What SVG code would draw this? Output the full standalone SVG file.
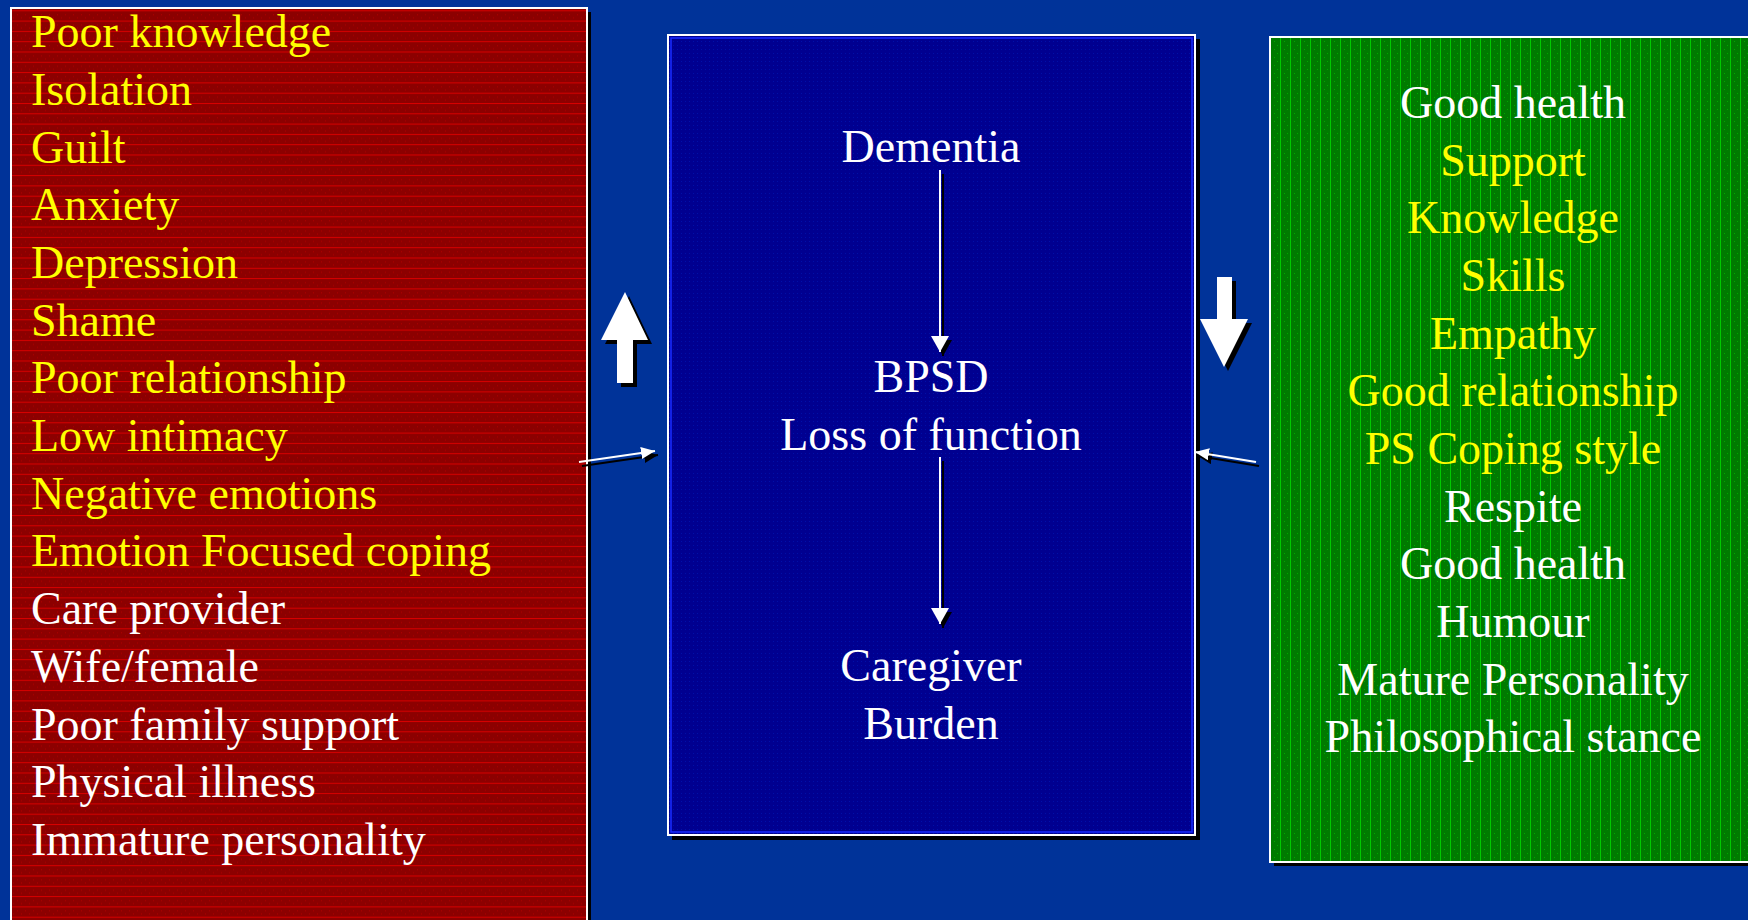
<svg xmlns="http://www.w3.org/2000/svg" width="1748" height="920" viewBox="0 0 1748 920">
<style>
  text { font-family: "Liberation Serif", "Times New Roman", serif; font-size: 46px; }
  .y { fill: #ffff00; }
  .w { fill: #ffffff; }
  .c { text-anchor: middle; }
  .frame { stroke: #ffffff; stroke-width: 2; }
  .shadow { fill: #000000; }
  .conn { stroke: #ffffff; stroke-width: 2; fill: none; }
  .conns { stroke: #000000; stroke-width: 2; fill: none; }
</style>
<defs>
  <pattern id="redPat" width="8" height="10.3" patternUnits="userSpaceOnUse">
    <rect width="8" height="10.3" fill="#8c0000"/>
    <rect x="1" y="4" width="1" height="1" fill="#b00000"/>
    <rect x="5" y="7" width="1" height="1" fill="#b00000"/>
    <line x1="0" y1="0.5" x2="8" y2="0.5" stroke="#d80000" stroke-width="1"/>
  </pattern>
  <pattern id="greenPat" width="10" height="8" patternUnits="userSpaceOnUse">
    <rect width="10" height="8" fill="#007a00"/>
    <rect x="4" y="1" width="1" height="1" fill="#00a800"/>
    <rect x="7" y="5" width="1" height="1" fill="#00a800"/>
    <line x1="0.5" y1="0" x2="0.5" y2="8" stroke="#00c800" stroke-width="1"/>
  </pattern>
  <pattern id="bluePat" width="4" height="4" patternUnits="userSpaceOnUse">
    <rect width="4" height="4" fill="#000090"/>
    <rect x="1" y="1" width="1" height="1" fill="#0010a8"/>
  </pattern>
  <marker id="ah" viewBox="0 0 16 18" refX="16" refY="9" markerWidth="16" markerHeight="18" markerUnits="userSpaceOnUse" orient="auto">
    <path d="M0,0 L16,9 L0,18 z" fill="#ffffff"/>
  </marker>
  <marker id="ahs" viewBox="0 0 16 18" refX="16" refY="9" markerWidth="16" markerHeight="18" markerUnits="userSpaceOnUse" orient="auto">
    <path d="M0,0 L16,9 L0,18 z" fill="#000000"/>
  </marker>
  <marker id="ahsm" viewBox="0 0 14 12" refX="14" refY="6" markerWidth="14" markerHeight="12" markerUnits="userSpaceOnUse" orient="auto">
    <path d="M0,0 L14,6 L0,12 z" fill="#ffffff"/>
  </marker>
  <marker id="ahsms" viewBox="0 0 14 12" refX="14" refY="6" markerWidth="14" markerHeight="12" markerUnits="userSpaceOnUse" orient="auto">
    <path d="M0,0 L14,6 L0,12 z" fill="#000000"/>
  </marker>
</defs>

<rect width="1748" height="920" fill="#003399"/>

<g id="risk-factors">
  <rect class="shadow" x="15" y="12" width="576" height="912"/>
  <rect x="11" y="8" width="576" height="920" fill="url(#redPat)" class="frame"/>
  <text class="y" x="31" y="47">Poor knowledge</text>
  <text class="y" x="31" y="105">Isolation</text>
  <text class="y" x="31" y="163">Guilt</text>
  <text class="y" x="31" y="220">Anxiety</text>
  <text class="y" x="31" y="278">Depression</text>
  <text class="y" x="31" y="336">Shame</text>
  <text class="y" x="31" y="393">Poor relationship</text>
  <text class="y" x="31" y="451">Low intimacy</text>
  <text class="y" x="31" y="509">Negative emotions</text>
  <text class="y" x="31" y="566">Emotion Focused coping</text>
  <text class="w" x="31" y="624">Care provider</text>
  <text class="w" x="31" y="682">Wife/female</text>
  <text class="w" x="31" y="740">Poor family support</text>
  <text class="w" x="31" y="797">Physical illness</text>
  <text class="w" x="31" y="855">Immature personality</text>
</g>

<g id="center-box">
  <rect class="shadow" x="672" y="39" width="528" height="801"/>
  <rect x="668" y="35" width="527" height="800" fill="url(#bluePat)" class="frame"/>
  <rect x="671" y="38" width="521" height="794" fill="none" stroke="#1a2cff" stroke-width="1.5"/>
</g>
<g id="node-dementia"><text class="w c" x="931" y="162">Dementia</text></g>
<g id="node-bpsd">
  <text class="w c" x="931" y="392">BPSD</text>
  <text class="w c" x="931" y="450">Loss of function</text>
</g>
<g id="node-burden">
  <text class="w c" x="931" y="681">Caregiver</text>
  <text class="w c" x="931" y="739">Burden</text>
</g>

<g id="protective-factors">
  <rect class="shadow" x="1274" y="41" width="480" height="825"/>
  <rect x="1270" y="37" width="490" height="825" fill="url(#greenPat)" class="frame"/>
  <text class="w c" x="1513" y="118">Good health</text>
  <text class="y c" x="1513" y="176">Support</text>
  <text class="y c" x="1513" y="233">Knowledge</text>
  <text class="y c" x="1513" y="291">Skills</text>
  <text class="y c" x="1513" y="349">Empathy</text>
  <text class="y c" x="1513" y="406">Good relationship</text>
  <text class="y c" x="1513" y="464">PS Coping style</text>
  <text class="w c" x="1513" y="522">Respite</text>
  <text class="w c" x="1513" y="579">Good health</text>
  <text class="w c" x="1513" y="637">Humour</text>
  <text class="w c" x="1513" y="695">Mature Personality</text>
  <text class="w c" x="1513" y="752">Philosophical stance</text>
</g>

<g id="up-arrow">
  <polygon class="shadow" points="629,296 652,344 637,344 637,387 621,387 621,344 605,344"/>
  <polygon fill="#ffffff" points="625,292 648,340 633,340 633,383 617,383 617,340 601,340"/>
</g>
<g id="down-arrow">
  <polygon class="shadow" points="1221,281 1236,281 1236,323 1252,323 1228,371 1204,323 1221,323"/>
  <polygon fill="#ffffff" points="1217,277 1232,277 1232,319 1248,319 1224,367 1200,319 1217,319"/>
</g>

<g id="connectors">
  <line class="conns" x1="943" y1="174" x2="943" y2="356" marker-end="url(#ahs)"/>
  <line class="conn" x1="940" y1="170" x2="940" y2="352" marker-end="url(#ah)"/>
  <line class="conns" x1="943" y1="461" x2="943" y2="628" marker-end="url(#ahs)"/>
  <line class="conn" x1="940" y1="457" x2="940" y2="624" marker-end="url(#ah)"/>
  <line class="conns" x1="582" y1="466" x2="658" y2="455" marker-end="url(#ahsms)"/>
  <line class="conn" x1="579" y1="462" x2="655" y2="451" marker-end="url(#ahsm)"/>
  <line class="conns" x1="1259" y1="466" x2="1198" y2="456" marker-end="url(#ahsms)"/>
  <line class="conn" x1="1256" y1="462" x2="1195" y2="452" marker-end="url(#ahsm)"/>
</g>
</svg>
